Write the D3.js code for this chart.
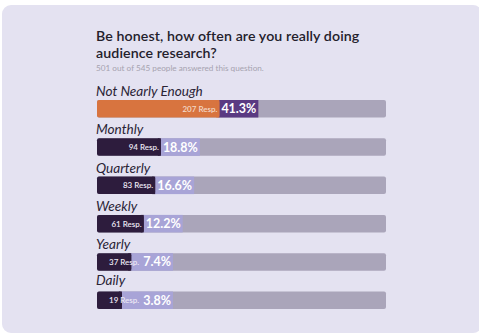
<!DOCTYPE html>
<html><head><meta charset="utf-8">
<script src="https://cdn.jsdelivr.net/npm/d3@7"></script>
<style>
html,body{margin:0;padding:0;background:#fff;}
svg{display:block;font-family:Lato, "Open Sans", sans-serif;}
</style></head>
<body><svg id="c" width="479" height="334"></svg>
<script>
const categories = ["Not Nearly Enough","Monthly","Quarterly","Weekly","Yearly","Daily"];
const responses = [207,94,83,61,37,19];
const percents = [41.3,18.8,16.6,12.2,7.4,3.8];
const titleLines = ["Be honest, how often are you really doing","audience research?"];
const subtitle = "501 out of 545 people answered this question.";

const svg = d3.select("#c");
svg.append("rect").attr("x",2).attr("y",5).attr("width",480).attr("height",328).attr("rx",9).attr("fill","#e4e2f1");

svg.selectAll("text.title").data(titleLines).join("text").attr("class","title")
  .attr("x",96).attr("y",(d,i)=>40.5+i*17).attr("font-size",14.2).attr("font-weight",600)
  .attr("letter-spacing",0.1)
  .attr("fill","#23202b").text(d=>d);
svg.append("text").attr("x",96).attr("y",71).attr("font-size",8.2).attr("fill","#a6a3b0").text(subtitle);

const x0 = 97, x1 = 386;
const y = d3.scalePoint().domain(categories).range([100, 291.5]);
const w = d3.scaleLinear().domain([0,100]).range([15,275]);
const bh = 17.5;

const g = svg.selectAll("g.row").data(categories).join("g").attr("class","row");
g.append("text").attr("x",96).attr("y",(d,i)=>y(d)-(i===5?7:4)).attr("font-size",13.6).attr("font-style","italic")
  .attr("fill","#2a2436").text(d=>d);
g.append("rect").attr("x",x0).attr("y",d=>y(d)).attr("width",x1-x0).attr("height",bh).attr("rx",2).attr("fill","#aaa5ba");

g.each(function(cat,i){
  const row = d3.select(this);
  const top = y(cat);
  const dw = w(percents[i]);
  const darkEnd = x0 + dw;
  const first = i===0;
  const box = row.append("rect").attr("y",top).attr("height",bh).attr("fill", first?"#5a3a82":"#a8a4d7");
  row.append("rect").attr("x",x0).attr("y",top).attr("width",dw).attr("height",bh).attr("rx",2)
    .attr("fill", first?"#d8743f":"#2d1c3d");
  row.append("rect").attr("x",darkEnd-3).attr("y",top).attr("width",3).attr("height",bh)
    .attr("fill", first?"#d8743f":"#2d1c3d");
  const lab = row.append("text").attr("y",top+bh/2+3).attr("font-size",8).attr("font-weight",600)
    .attr("fill", first?"#f3d9c8":"#ece8f4").attr("text-anchor","end").text(responses[i]+" Resp.");
  const lw = lab.node().getComputedTextLength();
  const labEnd = Math.max(darkEnd-2, x0+12+lw);
  lab.attr("x",labEnd);
  const pct = row.append("text").attr("x",labEnd+4).attr("y",top+bh/2+4.5).attr("font-size",12.5).attr("font-weight",700)
    .attr("fill","#ffffff").text(percents[i].toFixed(1)+"%");
  const pw = pct.node().getComputedTextLength();
  const boxEnd = Math.max(darkEnd+38, labEnd+4+pw+2);
  box.attr("x",darkEnd-1).attr("width",boxEnd-darkEnd+1);
});
</script></body></html>
